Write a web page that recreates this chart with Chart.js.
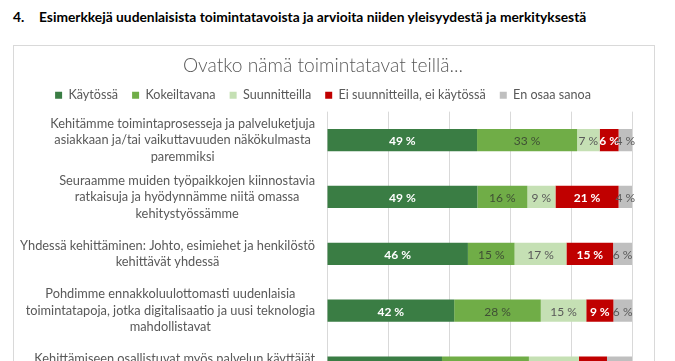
<!DOCTYPE html>
<html>
<head>
<meta charset="utf-8">
<script src="https://cdn.jsdelivr.net/npm/chart.js@4.4.0/dist/chart.umd.min.js"></script>
<style>
body { margin: 0; background: #fff; overflow: hidden; width: 675px; height: 361px; font-family: Lato, sans-serif; }
#head { position: absolute; left: 13px; top: 8px; font-weight: bold; font-size: 13.8px; color: #000; white-space: nowrap; }
#head span { display: inline-block; width: 26px; }
#box { position: absolute; left: 13px; top: 45px; width: 642px; height: 362px; border: 1px solid #d9d9d9; box-sizing: border-box; }
</style>
</head>
<body>
<div id="head"><span>4.</span>Esimerkkejä uudenlaisista toimintatavoista ja arvioita niiden yleisyydestä ja merkityksestä</div>
<div id="box"><canvas id="myChart"></canvas></div>
<script>
// categories (multi-line labels)
var categories = [
  ['Kehitämme toimintaprosesseja ja palveluketjuja', 'asiakkaan ja/tai vaikuttavuuden näkökulmasta', 'paremmiksi'],
  ['Seuraamme muiden työpaikkojen kiinnostavia', 'ratkaisuja ja hyödynnämme niitä omassa', 'kehitystyössämme'],
  ['Yhdessä kehittäminen: Johto, esimiehet ja henkilöstö', 'kehittävät yhdessä'],
  ['Pohdimme ennakkoluulottomasti uudenlaisia', 'toimintatapoja, jotka digitalisaatio ja uusi teknologia', 'mahdollistavat'],
  ['Kehittämiseen osallistuvat myös palvelun käyttäjät', '']
];

// series values (%)
var kaytossa      = [49.2, 49.3, 46.2, 41.7, 37.7];
var kokeiltavana  = [32.8, 16.4, 15.3, 28.4, 28.5];
var suunnitteilla = [7.4, 9.2, 17.0, 14.9, 16.4];
var eiKaytossa    = [6.2, 20.7, 15.3, 8.9, 9.2];
var enOsaa        = [4.4, 4.4, 6.2, 6.1, 8.2];

var xTicks = [0, 20, 40, 60, 80, 100];

var labelFont = 'Lato, sans-serif';

// draws the category labels: block right aligned, lines centered in block
var yLabelsPlugin = {
  id: 'yLabels',
  afterDraw: function(chart) {
    var ctx = chart.ctx;
    var scale = chart.scales.y;
    var right = chart.chartArea.left - 12;
    var lineH = 16.5;
    ctx.save();
    ctx.font = '12.8px ' + labelFont;
    ctx.fillStyle = '#595959';
    ctx.textAlign = 'center';
    ctx.textBaseline = 'middle';
    categories.forEach(function(lines, i) {
      var maxW = 0;
      lines.forEach(function(l) { maxW = Math.max(maxW, ctx.measureText(l).width); });
      var cx = right - maxW / 2;
      var yc = scale.getPixelForValue(i);
      var y0 = yc - (lines.length - 1) * lineH / 2;
      lines.forEach(function(l, j) { ctx.fillText(l, cx, y0 + j * lineH); });
    });
    ctx.restore();
  }
};

// value labels inside the bars
var valueLabelsPlugin = {
  id: 'valueLabels',
  afterDatasetsDraw: function(chart) {
    var ctx = chart.ctx;
    ctx.save();
    ctx.textAlign = 'center';
    ctx.textBaseline = 'middle';
    chart.data.datasets.forEach(function(ds, di) {
      var meta = chart.getDatasetMeta(di);
      meta.data.forEach(function(bar, i) {
        var v = ds.data[i];
        ctx.font = (ds.labelBold ? 'bold ' : '') + '12px ' + labelFont;
        ctx.fillStyle = ds.labelColor;
        ctx.fillText(Math.round(v) + ' %', (bar.x + bar.base) / 2, bar.y + 1);
      });
    });
    ctx.restore();
  }
};

var ctx = document.getElementById('myChart').getContext('2d');
var myChart = new Chart(ctx, {
  type: 'bar',
  data: {
    labels: categories,
    datasets: [
      { label: 'Käytössä', data: kaytossa, backgroundColor: '#3a7d44', labelColor: '#ffffff', labelBold: true },
      { label: 'Kokeiltavana', data: kokeiltavana, backgroundColor: '#70ad47', labelColor: '#3f4f35' },
      { label: 'Suunnitteilla', data: suunnitteilla, backgroundColor: '#c5e0b4', labelColor: '#595959' },
      { label: 'Ei suunnitteilla, ei käytössä', data: eiKaytossa, backgroundColor: '#c00000', labelColor: '#ffffff', labelBold: true },
      { label: 'En osaa sanoa', data: enOsaa, backgroundColor: '#bfbfbf', labelColor: '#595959' }
    ]
  },
  options: {
    indexAxis: 'y',
    responsive: true,
    maintainAspectRatio: false,
    animation: false,
    barPercentage: 0.39,
    categoryPercentage: 1,
    layout: { padding: { right: 22, bottom: 10 } },
    plugins: {
      title: {
        display: true,
        text: 'Ovatko nämä toimintatavat teillä...',
        color: '#595959',
        font: { family: labelFont, size: 19.2, weight: '300' },
        padding: { top: 8, bottom: -2 }
      },
      legend: {
        position: 'top',
        labels: {
          boxWidth: 7,
          boxHeight: 7,
          padding: 14,
          color: '#595959',
          font: { family: labelFont, size: 12.6 }
        }
      },
      tooltip: { enabled: false }
    },
    scales: {
      x: {
        stacked: true,
        min: 0,
        max: 100,
        afterBuildTicks: function(scale) { scale.ticks = xTicks.map(function(v) { return { value: v }; }); },
        ticks: { display: false },
        grid: { color: '#d9d9d9', drawTicks: false },
        border: { display: false }
      },
      y: {
        stacked: true,
        ticks: { display: false },
        grid: { display: false },
        border: { display: false },
        afterFit: function(scale) { scale.width = 313; }
      }
    }
  },
  plugins: [yLabelsPlugin, valueLabelsPlugin]
});
</script>
</body>
</html>
